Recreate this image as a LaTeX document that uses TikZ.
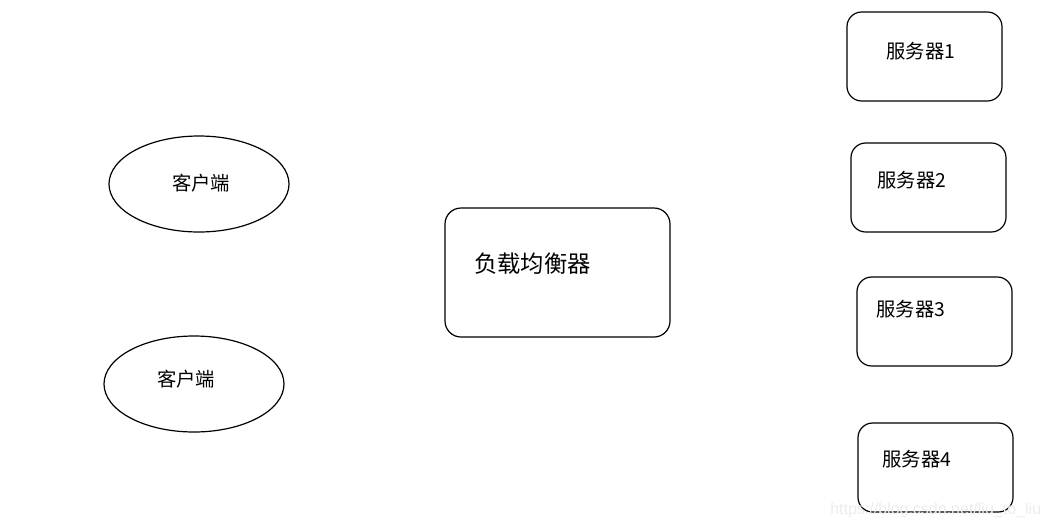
\documentclass[tikz,border=0pt]{standalone}
\usepackage{fontspec}
\setmainfont{Liberation Sans}
\newfontfamily\cjk{Noto Sans CJK SC}
\usetikzlibrary{shapes.geometric}
\begin{document}
\begin{tikzpicture}[x=0.75pt,y=-0.75pt,
  client/.style={draw=black,line width=0.9pt,ellipse,minimum width=180*0.75pt,minimum height=96*0.75pt,inner sep=0pt},
  server/.style={draw=black,line width=0.9pt,rounded corners=11pt,minimum width=155*0.75pt,minimum height=89*0.75pt,inner sep=0pt},
  lb/.style={draw=black,line width=0.9pt,rounded corners=12pt,minimum width=225*0.75pt,minimum height=129*0.75pt,inner sep=0pt},
  lbl/.style={font=\cjk\fontsize{14.5}{16}\selectfont,inner sep=0pt},
  wm/.style={font=\fontsize{12}{14}\selectfont,text=black!7,inner sep=0pt,anchor=west}]
\useasboundingbox (0,0) rectangle (1047,529);
\fill[white] (0,0) rectangle (1047,529);
\node[client] (c1) at (199,184) {};
\node[lbl] (c1t) at (201,183) {客户端};
\node[client] (c2) at (194,384) {};
\node[lbl] (c2t) at (186,379) {客户端};
\node[lb] (lb) at (557.5,272.5) {};
\node[lbl,font=\cjk\fontsize{17.5}{19}\selectfont,anchor=west] (lbt) at (474,264) {负载均衡器};
\node[server] (s1) at (924.5,56.5) {};
\node[lbl] (s1t) at (921,51) {服务器1};
\node[server] (s2) at (928.5,187.5) {};
\node[lbl] (s2t) at (912,180) {服务器2};
\node[server] (s3) at (934.5,321.5) {};
\node[lbl] (s3t) at (911,309) {服务器3};
\node[server] (s4) at (935.5,467.5) {};
\node[lbl] (s4t) at (917,459) {服务器4};
\node[wm] (wm) at (830,510) {https://blog.csdn.net/liu\_to\_liu};
\end{tikzpicture}
\end{document}
